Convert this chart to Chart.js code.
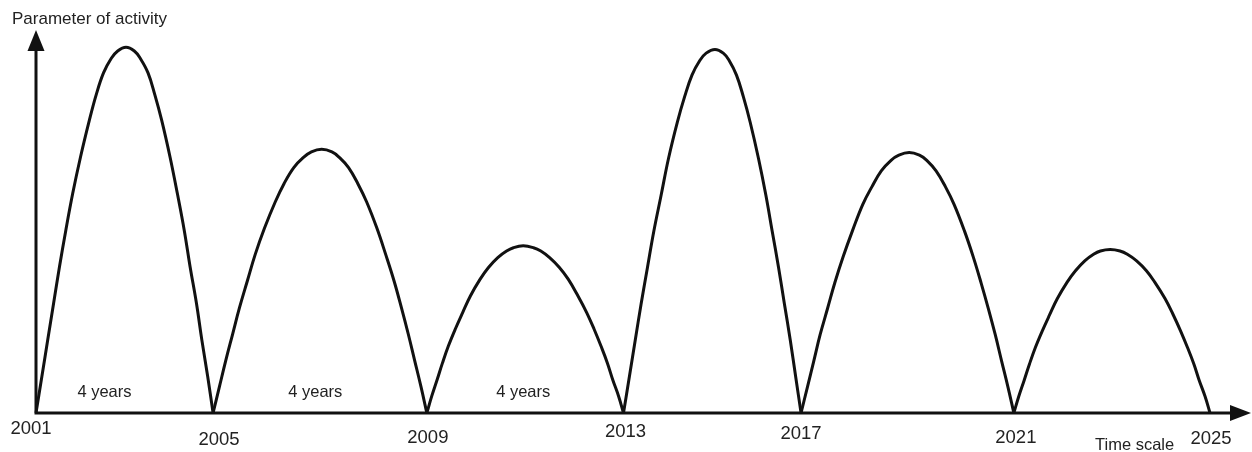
<!DOCTYPE html>
<html>
<head>
<meta charset="utf-8">
<title>Parameter of activity</title>
<script src="https://cdn.jsdelivr.net/npm/chart.js@4"></script>
<style>
    html, body { margin: 0; padding: 0; background: #fff; }
    #wrap { position: relative; width: 1252px; height: 452px; }
</style>
</head>
<body>
<div id="wrap"><canvas id="chart"></canvas></div>
<script>
// tick labels and where each cycle boundary sits on the time axis
const yearLabels = ['2001', '2005', '2009', '2013', '2017', '2021', '2025'];
const cycleBounds = [2001, 2004.62, 2008.99, 2013.01, 2016.64, 2020.99, 2025];
const cycleNotes = ['4 years', '4 years', '4 years'];
const noteYears = [2002.40, 2006.71, 2010.96];

// one arch per cycle (left foot, up to the top, down to the right foot)
const arch1Years = [2001.00, 2001.12, 2001.24, 2001.36, 2001.48, 2001.61, 2001.75, 2001.91, 2002.09, 2002.23, 2002.38, 2002.54, 2002.67, 2002.84,
    2003.01, 2003.13, 2003.29, 2003.43, 2003.57, 2003.74, 2003.89, 2004.03, 2004.15, 2004.28, 2004.39, 2004.51, 2004.62];
const arch1Activity = [0, 10, 20, 30, 40, 50, 60, 70, 80, 87, 93, 97, 99, 100,
    99, 97, 93, 87, 80, 70, 60, 50, 40, 30, 20, 10, 0];

const arch2Years = [2004.62, 2004.75, 2004.88, 2005.02, 2005.16, 2005.32, 2005.48, 2005.67, 2005.89, 2006.07, 2006.27, 2006.47, 2006.63, 2006.84,
    2007.05, 2007.20, 2007.39, 2007.58, 2007.76, 2007.97, 2008.15, 2008.32, 2008.47, 2008.61, 2008.74, 2008.87, 2008.99];
const arch2Activity = [0, 7.2, 14.4, 21.6, 28.8, 36.1, 43.3, 50.5, 57.7, 62.7, 67.1, 69.9, 71.4, 72.1,
    71.4, 69.9, 67.1, 62.7, 57.7, 50.5, 43.3, 36.1, 28.8, 21.6, 14.4, 7.2, 0];

const arch3Years = [2008.99, 2009.09, 2009.20, 2009.31, 2009.43, 2009.57, 2009.72, 2009.88, 2010.08, 2010.25, 2010.44, 2010.62, 2010.76, 2010.96,
    2011.17, 2011.32, 2011.50, 2011.70, 2011.88, 2012.08, 2012.26, 2012.41, 2012.55, 2012.68, 2012.79, 2012.91, 2013.01];
const arch3Activity = [0, 4.6, 9.1, 13.7, 18.3, 22.9, 27.4, 32.0, 36.6, 39.8, 42.5, 44.3, 45.2, 45.7,
    45.2, 44.3, 42.5, 39.8, 36.6, 32.0, 27.4, 22.9, 18.3, 13.7, 9.1, 4.6, 0];

const arch4Years = [2013.01, 2013.13, 2013.25, 2013.37, 2013.50, 2013.63, 2013.78, 2013.93, 2014.11, 2014.26, 2014.41, 2014.57, 2014.70, 2014.88,
    2015.05, 2015.17, 2015.32, 2015.46, 2015.60, 2015.77, 2015.92, 2016.05, 2016.18, 2016.30, 2016.42, 2016.53, 2016.64];
const arch4Activity = [0, 9.9, 19.9, 29.8, 39.8, 49.7, 59.6, 69.6, 79.5, 86.5, 92.4, 96.4, 98.4, 99.4,
    98.4, 96.4, 92.4, 86.5, 79.5, 69.6, 59.6, 49.7, 39.8, 29.8, 19.9, 9.9, 0];

const arch5Years = [2016.64, 2016.77, 2016.90, 2017.03, 2017.18, 2017.33, 2017.50, 2017.69, 2017.90, 2018.09, 2018.28, 2018.48, 2018.64, 2018.85,
    2019.06, 2019.21, 2019.40, 2019.59, 2019.77, 2019.98, 2020.16, 2020.32, 2020.47, 2020.61, 2020.74, 2020.87, 2020.99];
const arch5Activity = [0, 7.1, 14.2, 21.4, 28.5, 35.6, 42.7, 49.8, 57.0, 61.9, 66.2, 69.1, 70.5, 71.2,
    70.5, 69.1, 66.2, 61.9, 57.0, 49.8, 42.7, 35.6, 28.5, 21.4, 14.2, 7.1, 0];

const arch6Years = [2020.99, 2021.09, 2021.20, 2021.31, 2021.43, 2021.57, 2021.72, 2021.88, 2022.08, 2022.25, 2022.44, 2022.62, 2022.76, 2022.96,
    2023.16, 2023.31, 2023.50, 2023.70, 2023.87, 2024.08, 2024.25, 2024.40, 2024.54, 2024.67, 2024.78, 2024.90, 2025.00];
const arch6Activity = [0, 4.5, 8.9, 13.4, 17.9, 22.4, 26.8, 31.3, 35.8, 38.9, 41.6, 43.4, 44.3, 44.7,
    44.3, 43.4, 41.6, 38.9, 35.8, 31.3, 26.8, 22.4, 17.9, 13.4, 8.9, 4.5, 0];

const arches = [
    [arch1Years, arch1Activity],
    [arch2Years, arch2Activity],
    [arch3Years, arch3Activity],
    [arch4Years, arch4Activity],
    [arch5Years, arch5Activity],
    [arch6Years, arch6Activity],
];

const font = '"Liberation Sans", Arial, Helvetica, sans-serif';
const ink = '#111';
const textInk = '#222';

// small nudges so the year labels sit like the original ones
const labelShift = [-5, 6, 1, 2, 0, 2, 1];
const labelBase = [21, 32, 30, 24, 26, 30, 31];

const axesPlugin = {
    id: 'arrowAxes',
    beforeDatasetsDraw(chart) {
        const { ctx, chartArea, scales } = chart;
        const x0 = scales.x.getPixelForValue(2001);
        const y0 = scales.y.getPixelForValue(0);
        const yTop = chartArea.top + 1;
        const xEnd = chartArea.right + 41;

        ctx.save();
        ctx.strokeStyle = ink;
        ctx.fillStyle = ink;
        ctx.lineWidth = 3;

        ctx.beginPath();
        ctx.moveTo(x0, y0);
        ctx.lineTo(xEnd - 18, y0);
        ctx.moveTo(x0, y0 + 1.5);
        ctx.lineTo(x0, yTop + 18);
        ctx.stroke();

        // arrow heads
        ctx.beginPath();
        ctx.moveTo(xEnd, y0);
        ctx.lineTo(xEnd - 21, y0 - 8);
        ctx.lineTo(xEnd - 21, y0 + 8);
        ctx.closePath();
        ctx.fill();

        ctx.beginPath();
        ctx.moveTo(x0, yTop);
        ctx.lineTo(x0 - 8.5, yTop + 21);
        ctx.lineTo(x0 + 8.5, yTop + 21);
        ctx.closePath();
        ctx.fill();
        ctx.restore();
    },
    afterDraw(chart) {
        const { ctx, scales } = chart;
        const y0 = scales.y.getPixelForValue(0);

        ctx.save();
        ctx.fillStyle = textInk;
        ctx.textBaseline = 'alphabetic';

        ctx.font = '18.5px ' + font;
        ctx.textAlign = 'center';
        yearLabels.forEach((label, i) => {
            const px = scales.x.getPixelForValue(cycleBounds[i]) + labelShift[i];
            ctx.fillText(label, px, y0 + labelBase[i]);
        });

        ctx.font = '16.5px ' + font;
        cycleNotes.forEach((note, i) => {
            ctx.fillText(note, scales.x.getPixelForValue(noteYears[i]), y0 - 16);
        });

        ctx.textAlign = 'left';
        ctx.fillText('Time scale', 1095, 450);
        ctx.font = '17px ' + font;
        ctx.fillText('Parameter of activity', 12, 24);
        ctx.restore();
    },
};

new Chart(document.getElementById('chart'), {
    type: 'line',
    data: {
        datasets: arches.map(([years, activity], i) => ({
            label: 'Cycle ' + (i + 1),
            data: years.map((year, j) => ({ x: year, y: activity[j] })),
            borderColor: ink,
            borderWidth: 3,
            pointRadius: 0,
            fill: false,
            tension: 0.4,
            clip: false,
        })),
    },
    options: {
        responsive: true,
        maintainAspectRatio: false,
        animation: false,
        layout: { padding: { left: 36, right: 42, top: 29, bottom: 39 } },
        scales: {
            x: { type: 'linear', min: 2001, max: 2025, display: false },
            y: { min: 0, max: 105, display: false },
        },
        plugins: {
            legend: { display: false },
            tooltip: { enabled: false },
        },
    },
    plugins: [axesPlugin],
});
</script>
</body>
</html>
